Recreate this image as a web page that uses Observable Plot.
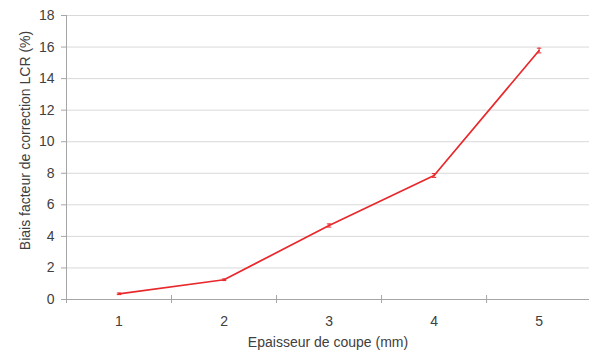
<!DOCTYPE html>
<html>
<head>
<meta charset="utf-8">
<script src="https://cdn.jsdelivr.net/npm/d3@7"></script>
<script src="https://cdn.jsdelivr.net/npm/@observablehq/plot@0.6"></script>
<style>
  html, body { margin: 0; padding: 0; background: #fff; }
</style>
</head>
<body>
<div id="chart"></div>
<script>
const thickness = [1, 2, 3, 4, 5];
const bias = [0.36, 1.25, 4.69, 7.86, 15.78];
const errors = [0.05, 0.05, 0.1, 0.12, 0.15];
const yTicks = [0, 2, 4, 6, 8, 10, 12, 14, 16, 18];
const xTicks = [1, 2, 3, 4, 5];
const xBounds = [0.5, 1.5, 2.5, 3.5, 4.5];
const xTitle = "Epaisseur de coupe (mm)";
const yTitle = "Biais facteur de correction LCR (%)";

const data = thickness.map((t, i) => ({t, b: bias[i], lo: bias[i] - errors[i], hi: bias[i] + errors[i]}));

const capSymbol = {
  draw(ctx, size) {
    const r = Math.sqrt(size) / 2;
    ctx.moveTo(-r, 0);
    ctx.lineTo(r, 0);
  }
};

const chart = Plot.plot({
  width: 589,
  height: 362,
  marginLeft: 66,
  marginRight: 0,
  marginTop: 15,
  marginBottom: 63,
  x: {domain: [0.5, 5.48]},
  y: {domain: [0, 18]},
  style: {fontFamily: "'Liberation Sans', Arial, sans-serif", fontSize: "14px", color: "#404040", background: "#fff"},
  marks: [
    Plot.gridY(yTicks.slice(1), {stroke: "#d9d9d9", strokeOpacity: 1, strokeWidth: 1}),
    Plot.ruleY([0], {stroke: "#a6a6a6"}),
    Plot.ruleX([0.5], {stroke: "#a6a6a6"}),
    Plot.ruleX(xBounds, {stroke: "#a6a6a6", insetTop: 280, insetBottom: -4}),
    Plot.axisY(yTicks, {tickSize: 5, tickPadding: 7, stroke: "#a6a6a6", fill: "#404040", label: null}),
    Plot.axisX(xTicks, {tickSize: 0, tickPadding: 17, fill: "#404040", label: null}),
    Plot.text([xTitle], {frameAnchor: "bottom", dy: 47, fill: "#404040", fontSize: 14}),
    Plot.text([yTitle], {frameAnchor: "left", rotate: -90, textAnchor: "middle", dx: -41, dy: -17, fill: "#404040", fontSize: 14}),
    Plot.ruleX(data, {x: "t", y1: "lo", y2: "hi", stroke: "#e8282b", strokeWidth: 1}),
    Plot.dot(data, {x: "t", y: "lo", symbol: capSymbol, r: 2.5, stroke: "#e8282b", strokeWidth: 1}),
    Plot.dot(data, {x: "t", y: "hi", symbol: capSymbol, r: 2.5, stroke: "#e8282b", strokeWidth: 1}),
    Plot.line(data, {x: "t", y: "b", stroke: "#e8282b", strokeWidth: 1.7})
  ]
});
document.getElementById("chart").append(chart);
</script>
</body>
</html>
